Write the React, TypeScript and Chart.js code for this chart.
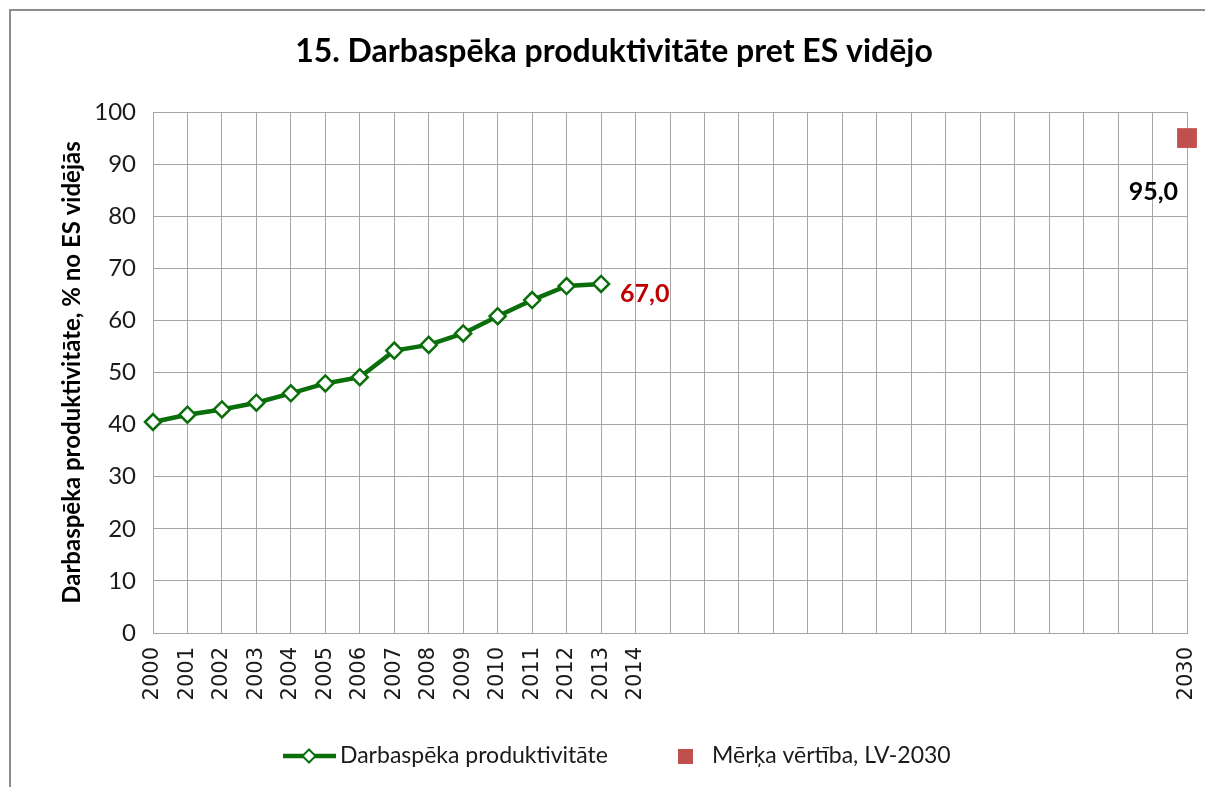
import React, { useEffect, useRef } from 'react';
import { Chart, registerables } from 'chart.js';

Chart.register(...registerables);

// ---- data ----
const categories = [
  '2000', '2001', '2002', '2003', '2004', '2005', '2006', '2007', '2008', '2009',
  '2010', '2011', '2012', '2013', '2014', '2015', '2016', '2017', '2018', '2019',
  '2020', '2021', '2022', '2023', '2024', '2025', '2026', '2027', '2028', '2029', '2030',
];
const shownTickLabels = [
  '2000', '2001', '2002', '2003', '2004', '2005', '2006', '2007', '2008', '2009',
  '2010', '2011', '2012', '2013', '2014', '2030',
];
const productivityYears = [
  '2000', '2001', '2002', '2003', '2004', '2005', '2006',
  '2007', '2008', '2009', '2010', '2011', '2012', '2013',
];
const productivityValues = [40.5, 41.9, 42.9, 44.2, 46.0, 47.9, 49.1, 54.2, 55.3, 57.5, 60.8, 63.9, 66.6, 67.0];
const targetYears = ['2030'];
const targetValues = [95.0];
const yTicks = [0, 10, 20, 30, 40, 50, 60, 70, 80, 90, 100];

const titleText = '15. Darbaspēka produktivitāte pret ES vidējo';
const yTitleText = 'Darbaspēka produktivitāte, % no ES vidējās';
const seriesNames = ['Darbaspēka produktivitāte', 'Mērķa vērtība, LV-2030'];

const GREEN = '#0A6E0A';
const RED = '#C0504D';
const GRID = '#A6A6A6';
const TEXT = '#1a1a1a';

const fmt = (v: number) => v.toFixed(1).replace('.', ',');

export default function App() {
  const ref = useRef<HTMLCanvasElement | null>(null);

  useEffect(() => {
    if (!ref.current) return;

    const framePlugin = {
      id: 'frame',
      beforeDraw(chart: any) {
        const { ctx, width, height } = chart;
        ctx.save();
        ctx.fillStyle = '#ffffff';
        ctx.fillRect(0, 0, width, height);
        ctx.strokeStyle = '#8c8c8c';
        ctx.lineWidth = 2;
        ctx.strokeRect(10, 10, width + 20, height + 20);
        ctx.restore();
      },
      afterDraw(chart: any) {
        const { ctx } = chart;
        ctx.save();
        ctx.fillStyle = '#000000';
        ctx.font = 'bold 32px Lato';
        ctx.textAlign = 'center';
        ctx.textBaseline = 'middle';
        ctx.fillText(titleText, 614, 52);
        ctx.restore();
      },
    };

    const labelsPlugin = {
      id: 'valueLabels',
      afterDatasetsDraw(chart: any) {
        const { ctx } = chart;
        ctx.save();
        ctx.font = 'bold 25px Lato';
        ctx.textBaseline = 'middle';
        const m0 = chart.getDatasetMeta(0);
        const last = m0.data[m0.data.length - 1];
        ctx.fillStyle = '#C00000';
        ctx.textAlign = 'left';
        ctx.fillText(fmt(productivityValues[productivityValues.length - 1]), last.x + 19, last.y + 10);
        const m1 = chart.getDatasetMeta(1);
        const tp = m1.data[0];
        ctx.fillStyle = '#000000';
        ctx.textAlign = 'right';
        ctx.fillText(fmt(targetValues[0]), tp.x - 9, tp.y + 54);
        ctx.restore();
      },
    };

    const legendPlugin = {
      id: 'customLegend',
      afterDraw(chart: any) {
        const { ctx } = chart;
        const y = 756;
        ctx.save();
        ctx.strokeStyle = GREEN;
        ctx.lineWidth = 4.5;
        ctx.beginPath();
        ctx.moveTo(283, y);
        ctx.lineTo(336, y);
        ctx.stroke();
        ctx.beginPath();
        const cx = 309, r = 6.5;
        ctx.moveTo(cx, y - r);
        ctx.lineTo(cx + r, y);
        ctx.lineTo(cx, y + r);
        ctx.lineTo(cx - r, y);
        ctx.closePath();
        ctx.fillStyle = '#ffffff';
        ctx.fill();
        ctx.lineWidth = 2;
        ctx.stroke();
        ctx.fillStyle = TEXT;
        ctx.font = '23px Lato';
        ctx.textBaseline = 'middle';
        ctx.textAlign = 'left';
        ctx.fillText(seriesNames[0], 340, y);
        ctx.fillStyle = RED;
        ctx.fillRect(678, 749, 15, 15);
        ctx.fillStyle = TEXT;
        ctx.fillText(seriesNames[1], 712, y);
        ctx.restore();
      },
    };

    const chart = new Chart(ref.current, {
      type: 'line',
      data: {
        labels: categories,
        datasets: [
          {
            label: seriesNames[0],
            data: productivityYears.map((yr, i) => ({ x: yr, y: productivityValues[i] })),
            borderColor: GREEN,
            borderWidth: 4.5,
            pointStyle: 'rectRot',
            pointRadius: 8,
            pointBorderWidth: 2.5,
            pointBackgroundColor: '#ffffff',
            pointBorderColor: GREEN,
            tension: 0,
            clip: false,
          } as any,
          {
            label: seriesNames[1],
            data: targetYears.map((yr, i) => ({ x: yr, y: targetValues[i] })),
            showLine: false,
            pointStyle: 'rect',
            pointRadius: 14,
            pointBorderWidth: 0,
            pointBackgroundColor: RED,
            pointBorderColor: RED,
            backgroundColor: RED,
            borderColor: RED,
            clip: false,
          } as any,
        ],
      },
      options: {
        responsive: false,
        animation: false,
        layout: { padding: { left: 0, right: 18, top: 112, bottom: 0 } },
        plugins: {
          legend: { display: false },
          tooltip: { enabled: false },
          title: { display: false },
        },
        scales: {
          x: {
            type: 'category',
            offset: false,
            grid: { color: GRID, lineWidth: 1, drawTicks: false },
            border: { display: true, color: GRID, width: 1 },
            ticks: {
              autoSkip: false,
              maxRotation: 90,
              minRotation: 90,
              padding: 14,
              color: TEXT,
              font: { family: 'DejaVu Sans', size: 21 },
              callback: function (this: any, value: any) {
                const lbl = this.getLabelForValue(value);
                return shownTickLabels.includes(lbl) ? lbl : '';
              },
            },
            afterFit: (scale: any) => {
              scale.height = 154;
              scale.paddingLeft = 0;
              scale.paddingRight = 0;
            },
          },
          y: {
            min: 0,
            max: 100,
            afterBuildTicks: (scale: any) => {
              scale.ticks = yTicks.map((v) => ({ value: v }));
            },
            grid: { color: GRID, lineWidth: 1, drawTicks: false },
            border: { display: true, color: GRID, width: 1 },
            ticks: {
              padding: 17,
              color: TEXT,
              font: { family: 'Lato', size: 24 },
            },
            title: {
              display: true,
              text: yTitleText,
              color: '#000000',
              font: { family: 'Lato', size: 24, weight: 'bold', lineHeight: 1.2 },
              padding: { top: 57.6, bottom: 0 },
            },
            afterFit: (scale: any) => {
              scale.width = 153;
              scale.paddingTop = 0;
              scale.paddingBottom = 0;
            },
          },
        },
      },
      plugins: [framePlugin, labelsPlugin, legendPlugin],
    });

    return () => chart.destroy();
  }, []);

  return (
    <div style={{ position: 'absolute', left: 0, top: 0, width: 1205, height: 787, background: '#fff' }}>
      <canvas ref={ref} width={1205} height={787} style={{ display: 'block', width: 1205, height: 787 }} />
    </div>
  );
}
